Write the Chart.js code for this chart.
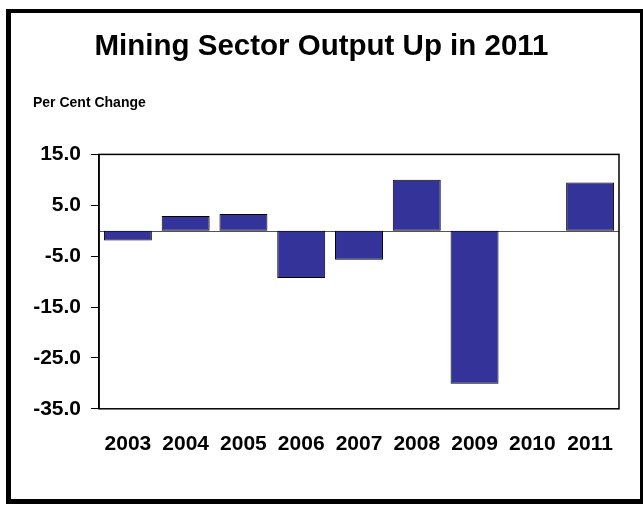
<!DOCTYPE html>
<html>
<head>
<meta charset="utf-8">
<script src="https://cdn.jsdelivr.net/npm/chart.js@4/dist/chart.umd.min.js"></script>
<style>
    html, body { margin: 0; padding: 0; background: #fff; }
    #wrap { position: relative; width: 643px; height: 506px; overflow: hidden; }
    #wrap canvas { position: absolute; left: 0; top: 0; }
    #frame {
        position: absolute; left: 6px; top: 9px; width: 638px; height: 495px;
        box-sizing: border-box; border: 5px solid #000; border-top-width: 4px; border-right-width: 4px;
        pointer-events: none;
    }
</style>
</head>
<body>
<div id="wrap">
    <canvas id="chartMining" width="643" height="506"></canvas>
    <div id="frame"></div>
</div>
<script>
// ── datos ──
const years = ["2003", "2004", "2005", "2006", "2007", "2008", "2009", "2010", "2011"];
const pctChange = [-1.9, 2.9, 3.3, -9.3, -5.7, 10.0, -30.1, null, 9.5];
const yTicks = [-35, -25, -15, -5, 5, 15];

const FONT = "'Liberation Sans', Arial, sans-serif";
const BAR = "#333399";

// línea de cero + marco del área del gráfico
const framePlugin = {
    id: "frame",
    beforeDatasetsDraw(chart) {
        const { ctx, chartArea: a, scales: { y } } = chart;
        const y0 = Math.round(y.getPixelForValue(0)) + 0.5;
        ctx.save();
        ctx.strokeStyle = "#555";
        ctx.lineWidth = 1;
        ctx.beginPath();
        ctx.moveTo(a.left, y0);
        ctx.lineTo(a.right, y0);
        ctx.stroke();
        ctx.restore();
    },
    afterDatasetsDraw(chart) {
        const { ctx, chartArea: a } = chart;
        ctx.save();
        ctx.strokeStyle = "#000";
        ctx.lineWidth = 1.5;
        ctx.strokeRect(a.left, a.top, a.right - a.left, a.bottom - a.top);
        ctx.restore();
    }
};

// rótulo "Per Cent Change" arriba a la izquierda
const unitLabel = {
    id: "unitLabel",
    afterDraw(chart) {
        const ctx = chart.ctx;
        ctx.save();
        ctx.font = "bold 14px " + FONT;
        ctx.fillStyle = "#000";
        ctx.textBaseline = "alphabetic";
        ctx.fillText("Per Cent Change", 33, 107);
        ctx.restore();
    }
};

new Chart(document.getElementById("chartMining"), {
    type: "bar",
    data: {
        labels: years,
        datasets: [{
            data: pctChange,
            backgroundColor: BAR,
            borderColor: "#000",
            borderWidth: 1,
            borderSkipped: false,
            barPercentage: 0.83,
            categoryPercentage: 1
        }]
    },
    options: {
        responsive: false,
        animation: false,
        layout: { padding: { left: 24, right: 24, top: 0, bottom: 34 } },
        plugins: {
            legend: { display: false },
            tooltip: { enabled: false },
            title: {
                display: true,
                text: "Mining Sector Output Up in 2011",
                color: "#000",
                font: { family: FONT, size: 29.5, weight: "bold" },
                padding: { top: 29, bottom: 90 }
            }
        },
        scales: {
            x: {
                grid: { display: false },
                border: { display: false },
                ticks: {
                    color: "#000", autoSkip: false, maxRotation: 0, padding: 15,
                    font: { family: FONT, size: 21, weight: "bold" }
                }
            },
            y: {
                min: -35,
                max: 15,
                afterBuildTicks: s => { s.ticks = yTicks.map(v => ({ value: v })); },
                afterFit: s => { s.width = 75; },
                grid: { drawOnChartArea: false, drawTicks: true, tickLength: 8, color: "#000" },
                border: { display: true, color: "#000", width: 1.5 },
                ticks: {
                    color: "#000", padding: 10,
                    font: { family: FONT, size: 21, weight: "bold" },
                    callback: v => Number(v).toFixed(1)
                }
            }
        }
    },
    plugins: [framePlugin, unitLabel]
});
</script>
</body>
</html>
